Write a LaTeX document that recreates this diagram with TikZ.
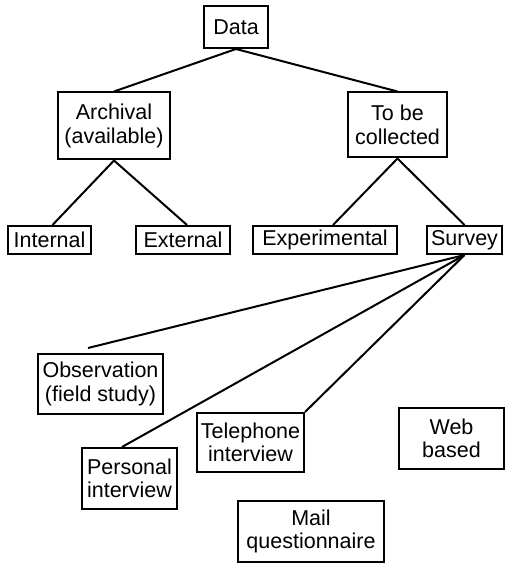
\documentclass[tikz,border=0pt]{standalone}
\usepackage{fontspec}
\setmainfont{Liberation Sans}
\usetikzlibrary{calc}
\begin{document}
\begin{tikzpicture}[x=1pt,y=-1pt,
  box/.style={draw,line width=2pt,inner sep=0pt,align=center,
    font=\fontsize{21.5}{23.5}\selectfont},
  link/.style={line width=2pt}]
\useasboundingbox (0,0) rectangle (505,564);
% top levels
\node[box,minimum width=64pt,minimum height=42pt] (data) at (236,27) {Data};
\node[box,minimum width=112pt,minimum height=67pt] (arch) at (114,126) {Archival\\(available)};
\node[box,minimum width=99pt,minimum height=65pt] (coll) at (397.5,125) {To be\\collected};
% third level
\node[box,minimum width=83pt,minimum height=28pt] (int) at (49.5,240) {Internal};
\node[box,minimum width=94pt,minimum height=28pt] (ext) at (183,240) {External};
\node[box,minimum width=144pt,minimum height=28pt] (exp) at (325,240) {Experimental};
\node[box,minimum width=75pt,minimum height=28pt] (surv) at (464.5,240) {Survey};
% survey methods
\node[box,minimum width=125pt,minimum height=60pt] (obs) at (100.5,384) {Observation\\(field study)};
\node[box,minimum width=95pt,minimum height=61pt] (pers) at (129.5,478.5) {Personal\\interview};
\node[box,minimum width=107pt,minimum height=59pt] (tel) at (250.5,442.5) {Telephone\\interview};
\node[box,minimum width=105pt,minimum height=61pt] (web) at (451.5,438.5) {Web\\based};
\node[box,minimum width=146pt,minimum height=61pt] (mail) at (311,531.5) {Mail\\questionnaire};
% loose line ends
\coordinate (obsend) at ($(obs.north)+(-12.5,-5)$);
\coordinate (persend) at ($(pers.north)+(-7.5,0)$);
\coordinate (expend) at ($(exp.north)+(8,0)$);
% connectors
\draw[link] (data.south) -- (arch.north);
\draw[link] (data.south) -- (coll.north);
\draw[link] (arch.south) -- ($(int.north)+(3,0)$);
\draw[link] (arch.south) -- ($(ext.north)+(4,0)$);
\draw[link] (coll.south) -- (expend);
\draw[link] (coll.south) -- (surv.north);
\draw[link] (surv.south) -- (obsend);
\draw[link] (surv.south) -- (persend);
\draw[link] (surv.south) -- (tel.north east);
\end{tikzpicture}
\end{document}
